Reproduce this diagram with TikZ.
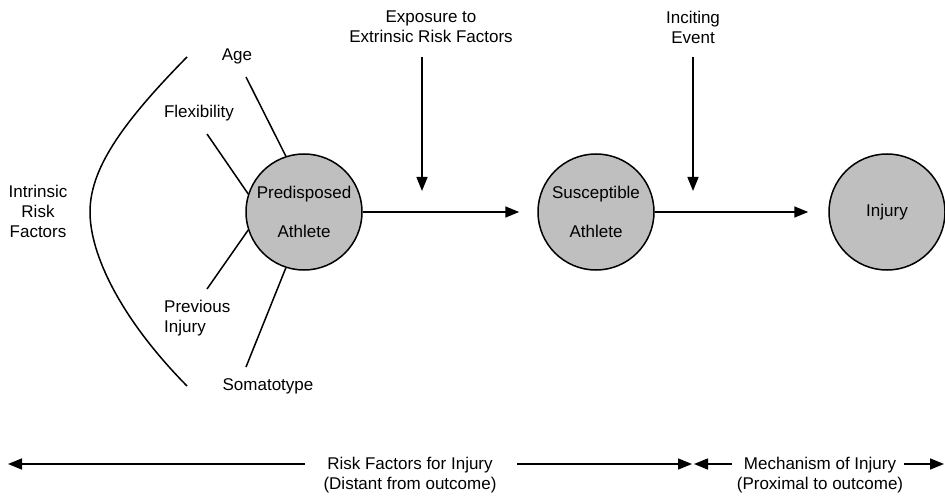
\documentclass[tikz,border=0pt]{standalone}
\usepackage{fontspec}
\setmainfont{Liberation Sans}
\usetikzlibrary{arrows.meta}

\begin{document}
\begin{tikzpicture}[x=1pt, y=-1pt,
    txt/.style={font=\fontsize{17}{20}\selectfont, inner sep=0pt, align=center},
    athlete/.style={circle, draw, line width=1.5pt, fill=black!25, minimum size=116pt,
                    inner sep=0pt, font=\fontsize{17}{20}\selectfont, align=center},
    ln/.style={line width=1.5pt},
    arr/.style={line width=1.5pt, -{Triangle[length=14pt, width=11pt]}}]
        \useasboundingbox (0,0) rectangle (945,497);

        % the three stages
        \node[athlete] (pred) at (304,212) {Predisposed\\[19pt]Athlete};
        \node[athlete] (susc) at (596,212) {Susceptible\\[19pt]Athlete};
        \node[athlete] (inj) at (887,212) {Injury};

        \draw[arr, shorten >=18pt] (pred) -- (susc);
        \draw[arr, shorten >=20pt] (susc) -- (inj);

        % intrinsic factors
        \node[txt] (age) at (237,56) {Age};
        \node[txt] (flex) at (199,113) {Flexibility};
        \node[txt, anchor=west, align=left] (prev) at (164,318) {Previous\\Injury};
        \node[txt] (soma) at (268,386) {Somatotype};
        \node[txt] (intr) at (38,211) {Intrinsic\\Risk\\Factors};

        \coordinate (agep) at (246,77);
        \coordinate (flexp) at (207,134);
        \coordinate (prevp) at (207,289);
        \coordinate (somap) at (246,367);
        \draw[ln] (agep) -- (pred.108);
        \draw[ln] (flexp) -- (pred.162);
        \draw[ln] (prevp) -- (pred.198);
        \draw[ln] (somap) -- (pred.252);

        \coordinate (brtop) at (187,57);
        \coordinate (brmid) at (90,212);
        \coordinate (brbot) at (187,386);
        \draw[ln] (brtop) .. controls (120,125) and (90,170) .. (brmid)
                          .. controls (90,254) and (120,318) .. (brbot);

        % extrinsic factors and inciting event
        \node[txt] (expo) at (431,27) {Exposure to\\Extrinsic Risk Factors};
        \node[txt] (inci) at (693,27) {Inciting\\Event};
        \coordinate (expotop) at (422,57);
        \coordinate (expotip) at (422,191);
        \coordinate (incitop) at (693,57);
        \coordinate (incitip) at (693,191);
        \draw[arr] (expotop) -- (expotip);
        \draw[arr] (incitop) -- (incitip);

        % time line
        \node[txt] (risk) at (410,475) {Risk Factors for Injury\\(Distant from outcome)};
        \node[txt] (mech) at (820,475) {Mechanism of Injury\\(Proximal to outcome)};
        \coordinate (l1) at (305,464);
        \coordinate (l2) at (8,464);
        \coordinate (l3) at (517,464);
        \coordinate (l4) at (692,464);
        \coordinate (l5) at (732,464);
        \coordinate (l6) at (694,464);
        \coordinate (l7) at (904,464);
        \coordinate (l8) at (944,464);
        \draw[arr] (l1) -- (l2);
        \draw[arr] (l3) -- (l4);
        \draw[arr] (l5) -- (l6);
        \draw[arr] (l7) -- (l8);
\end{tikzpicture}
\end{document}
